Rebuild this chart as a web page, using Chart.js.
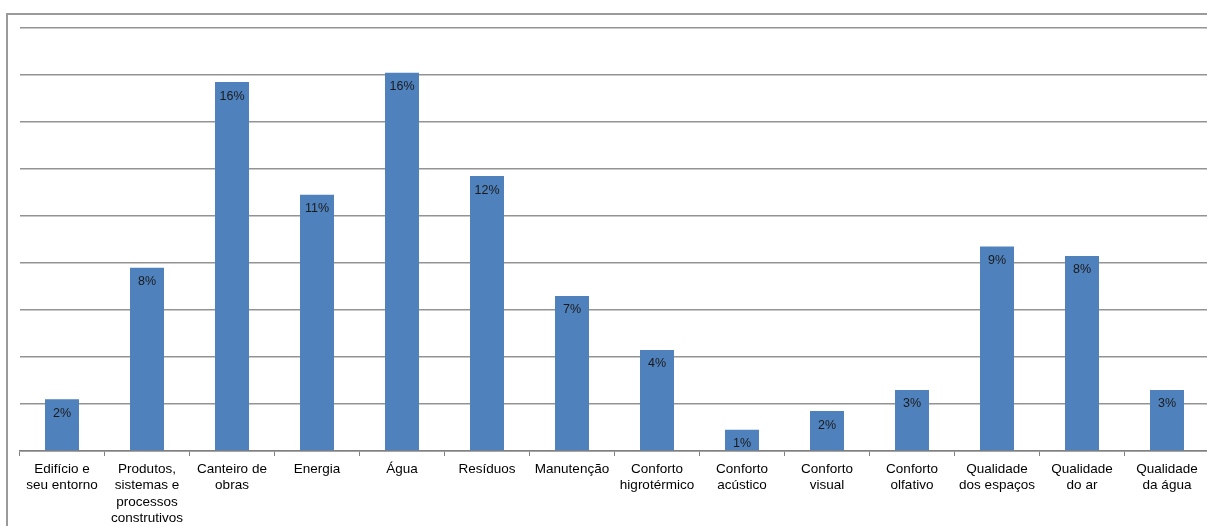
<!DOCTYPE html>
<html>
<head>
<meta charset="utf-8">
<script src="https://cdn.jsdelivr.net/npm/chart.js@4.4.1/dist/chart.umd.min.js"></script>
<style>
  html, body { margin: 0; padding: 0; background: #fff; overflow: hidden; }
  #frame { position: absolute; left: 6px; top: 13px; width: 1300px; height: 600px; border: 2px solid #9a9a9a; box-sizing: border-box; }
  #wrap { position: absolute; left: 0; top: 0; width: 1220px; height: 526px; }
</style>
</head>
<body>
<div id="frame"></div>
<div id="wrap"><canvas id="chart"></canvas></div>
<script>
// categories (multi-line as in the original axis)
const categories = [
    ['Edifício e', 'seu entorno'],
    ['Produtos,', 'sistemas e', 'processos', 'construtivos'],
    ['Canteiro de', 'obras'],
    ['Energia'],
    ['Água'],
    ['Resíduos'],
    ['Manutenção'],
    ['Conforto', 'higrotérmico'],
    ['Conforto', 'acústico'],
    ['Conforto', 'visual'],
    ['Conforto', 'olfativo'],
    ['Qualidade', 'dos espaços'],
    ['Qualidade', 'do ar'],
    ['Qualidade', 'da água']
];
const values = [2.2, 7.8, 15.7, 10.9, 16.1, 11.7, 6.6, 4.3, 0.9, 1.7, 2.6, 8.7, 8.3, 2.6];
const valueLabels = ['2%', '8%', '16%', '11%', '16%', '12%', '7%', '4%', '1%', '2%', '3%', '9%', '8%', '3%'];
const yTicks = [0, 2, 4, 6, 8, 10, 12, 14, 16, 18];

// draws the % text just inside the top of each bar
const barLabels = {
    id: 'barLabels',
    afterDatasetsDraw(chart) {
        const ctx = chart.ctx;
        const meta = chart.getDatasetMeta(0);
        ctx.save();
        ctx.font = '12.5px "Liberation Sans", Arial, sans-serif';
        ctx.fillStyle = '#1a1a1a';
        ctx.textAlign = 'center';
        ctx.textBaseline = 'middle';
        meta.data.forEach((bar, i) => {
            ctx.fillText(valueLabels[i], bar.x, bar.y + 14);
        });
        ctx.restore();
    }
};

window.onload = function() {
    new Chart(document.getElementById('chart'), {
        type: 'bar',
        data: {
            labels: categories,
            datasets: [{
                data: values,
                backgroundColor: '#4f81bd',
                borderWidth: 0,
                barPercentage: 0.4,
                categoryPercentage: 1.0
            }]
        },
        options: {
            responsive: true,
            maintainAspectRatio: false,
            animation: false,
            layout: { padding: { left: 0, top: 28, right: 10.5, bottom: 0 } },
            plugins: {
                legend: { display: false },
                tooltip: { enabled: false }
            },
            scales: {
                x: {
                    afterFit(scale) { scale.height = 75; },
                    grid: {
                        offset: true,
                        drawOnChartArea: false,
                        drawTicks: true,
                        tickLength: 5,
                        color: '#808080'
                    },
                    border: { display: true, color: '#808080', width: 1.5 },
                    ticks: {
                        color: '#000',
                        maxRotation: 0,
                        autoSkip: false,
                        padding: 5,
                        font: { family: '"Liberation Sans", Arial, sans-serif', size: 13.5, lineHeight: 1.22 }
                    }
                },
                y: {
                    min: 0,
                    max: 18,
                    afterFit(scale) { scale.width = 19.5; },
                    afterBuildTicks(scale) { scale.ticks = yTicks.map(v => ({ value: v })); },
                    ticks: { display: false },
                    border: { display: false },
                    grid: { color: '#939393', lineWidth: 1.5, drawTicks: false }
                }
            }
        },
        plugins: [barLabels]
    });
};
</script>
</body>
</html>
